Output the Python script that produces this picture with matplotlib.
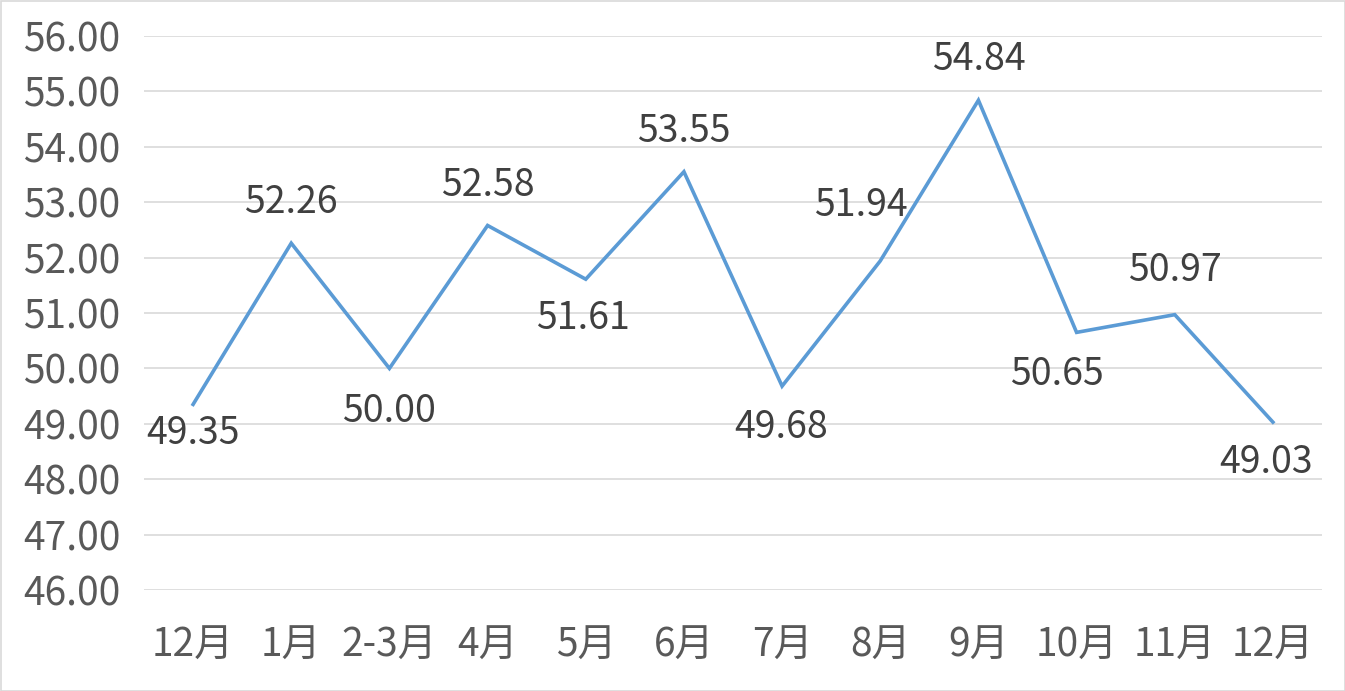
import matplotlib
matplotlib.use("Agg")
import matplotlib.pyplot as plt
from matplotlib.patches import Rectangle

plt.rcParams['font.family'] = ['Noto Sans CJK SC', 'DejaVu Sans']

categories = ["12月", "1月", "2-3月", "4月", "5月", "6月", "7月", "8月", "9月", "10月", "11月", "12月"]
values = [49.35, 52.26, 50.00, 52.58, 51.61, 53.55, 49.68, 51.94, 54.84, 50.65, 50.97, 49.03]
yticks = [46, 47, 48, 49, 50, 51, 52, 53, 54, 55, 56]

# label placement (style): vertical offset in points, horizontal offset in points
label_dy = [-21, 29, -31, 29, -28, 29, -30, 40, 29, -30, 32, -29]
label_dx = [0, 0, 0, 0, -2, 0, -1, -14, 0, -14, 0, -5]

fig = plt.figure(figsize=(13.45, 6.91), dpi=100)
ax = fig.add_axes([144/1345, 1-590/691, (1322-144)/1345, (590-36)/691])

x = list(range(len(values)))
ax.plot(x, values, color="#5B9BD5", linewidth=2.6, solid_joinstyle="miter")

for i, v in enumerate(values):
    ax.annotate(f"{v:.2f}", (i, v), xytext=(label_dx[i], label_dy[i]),
                textcoords="offset points", ha="center", va="center",
                fontsize=27, color="#404040")

ax.set_xlim(-0.5, len(values) - 0.5)
ax.set_ylim(46, 56)
ax.set_yticks(yticks)
ax.set_yticklabels([f"{t:.2f}" for t in yticks])
ax.set_xticks(x)
ax.set_xticklabels(categories)
ax.grid(axis="y", color="#D9D9D9", linewidth=1.2)
ax.set_axisbelow(True)
for s in ax.spines.values():
    s.set_visible(False)
ax.tick_params(axis="y", length=0, labelsize=28, labelcolor="#595959", pad=17)
ax.tick_params(axis="x", length=0, labelsize=28, labelcolor="#595959", pad=26)

fig.patches.append(Rectangle((0.5/1345, 0.5/691), 1-1/1345, 1-1/691, transform=fig.transFigure,
                             fill=False, edgecolor="#D9D9D9", linewidth=1.2))

fig.savefig("out.png", dpi=100)
